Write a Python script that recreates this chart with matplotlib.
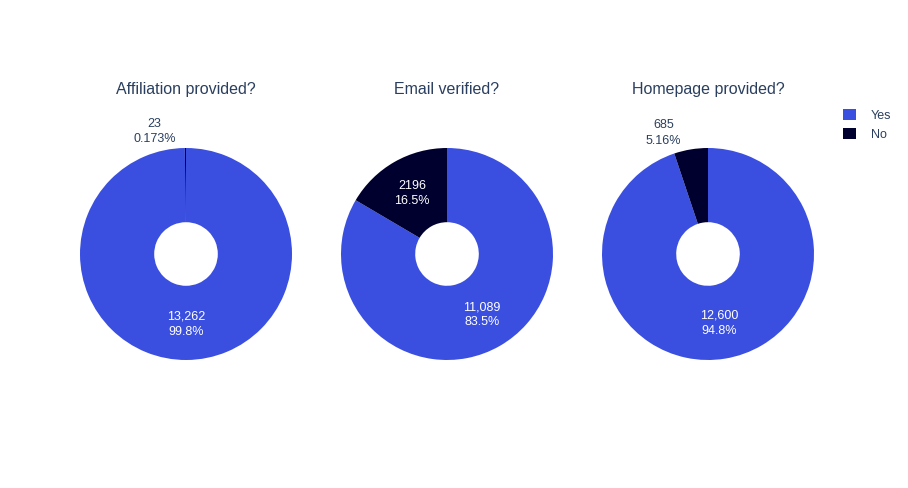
import numpy as np
import matplotlib.pyplot as plt
from matplotlib.patches import Patch

plt.rcParams['font.family'] = ['Liberation Sans', 'DejaVu Sans']

titles = ['Affiliation provided?', 'Email verified?', 'Homepage provided?']
labels = ['Yes', 'No']
yes_counts = [13262, 11089, 12600]
no_counts = [23, 2196, 685]

colors = ['#3a4fe0', '#00002e']
txt_col = '#2a3f5f'


def fmt_count(v):
    # plotly only puts thousands separators on 5+ digit numbers
    return f'{v:,}' if v >= 10000 else str(v)


fig = plt.figure(figsize=(9.08, 4.88), dpi=100)
W, H = 908, 488
centers = [186, 447, 708]
cy = 254
R = 106

for i, title in enumerate(titles):
    ax = fig.add_axes([(centers[i] - R) / W, (H - cy - R) / H, 2 * R / W, 2 * R / H])
    vals = [yes_counts[i], no_counts[i]]
    total = sum(vals)
    wedges, _ = ax.pie(vals, colors=colors, startangle=90, counterclock=False,
                       radius=1.0, wedgeprops=dict(width=0.7, linewidth=0))
    ax.set_xlim(-1, 1)
    ax.set_ylim(-1, 1)
    ax.axis('off')

    for w, v in zip(wedges, vals):
        pct = 100 * v / total
        s = f'{fmt_count(v)}\n{pct:.3g}%'
        ang = np.deg2rad((w.theta1 + w.theta2) / 2)
        if pct > 10:
            r = 0.66
            ax.text(r * np.cos(ang), r * np.sin(ang), s, ha='center', va='center',
                    color='white', fontsize=9, linespacing=1.35)
        else:
            x, y = np.cos(ang), np.sin(ang)
            ax.annotate(s, (x, y), xytext=(-7, 2), textcoords='offset points',
                        ha='right', va='bottom', color=txt_col, fontsize=9,
                        multialignment='center', linespacing=1.35,
                        annotation_clip=False)

    fig.text(centers[i] / W, 1 - 94 / H, title, ha='center', va='baseline',
             color=txt_col, fontsize=11.5)

handles = [Patch(facecolor=c, edgecolor='none') for c in colors]
fig.legend(handles, labels, loc='upper left', bbox_to_anchor=(832 / W, 1 - 98 / H),
           frameon=False, fontsize=9, handlelength=1.0, handleheight=1.0,
           handletextpad=1.2, labelspacing=0.45, labelcolor=txt_col)

fig.savefig('out.png', dpi=100)
